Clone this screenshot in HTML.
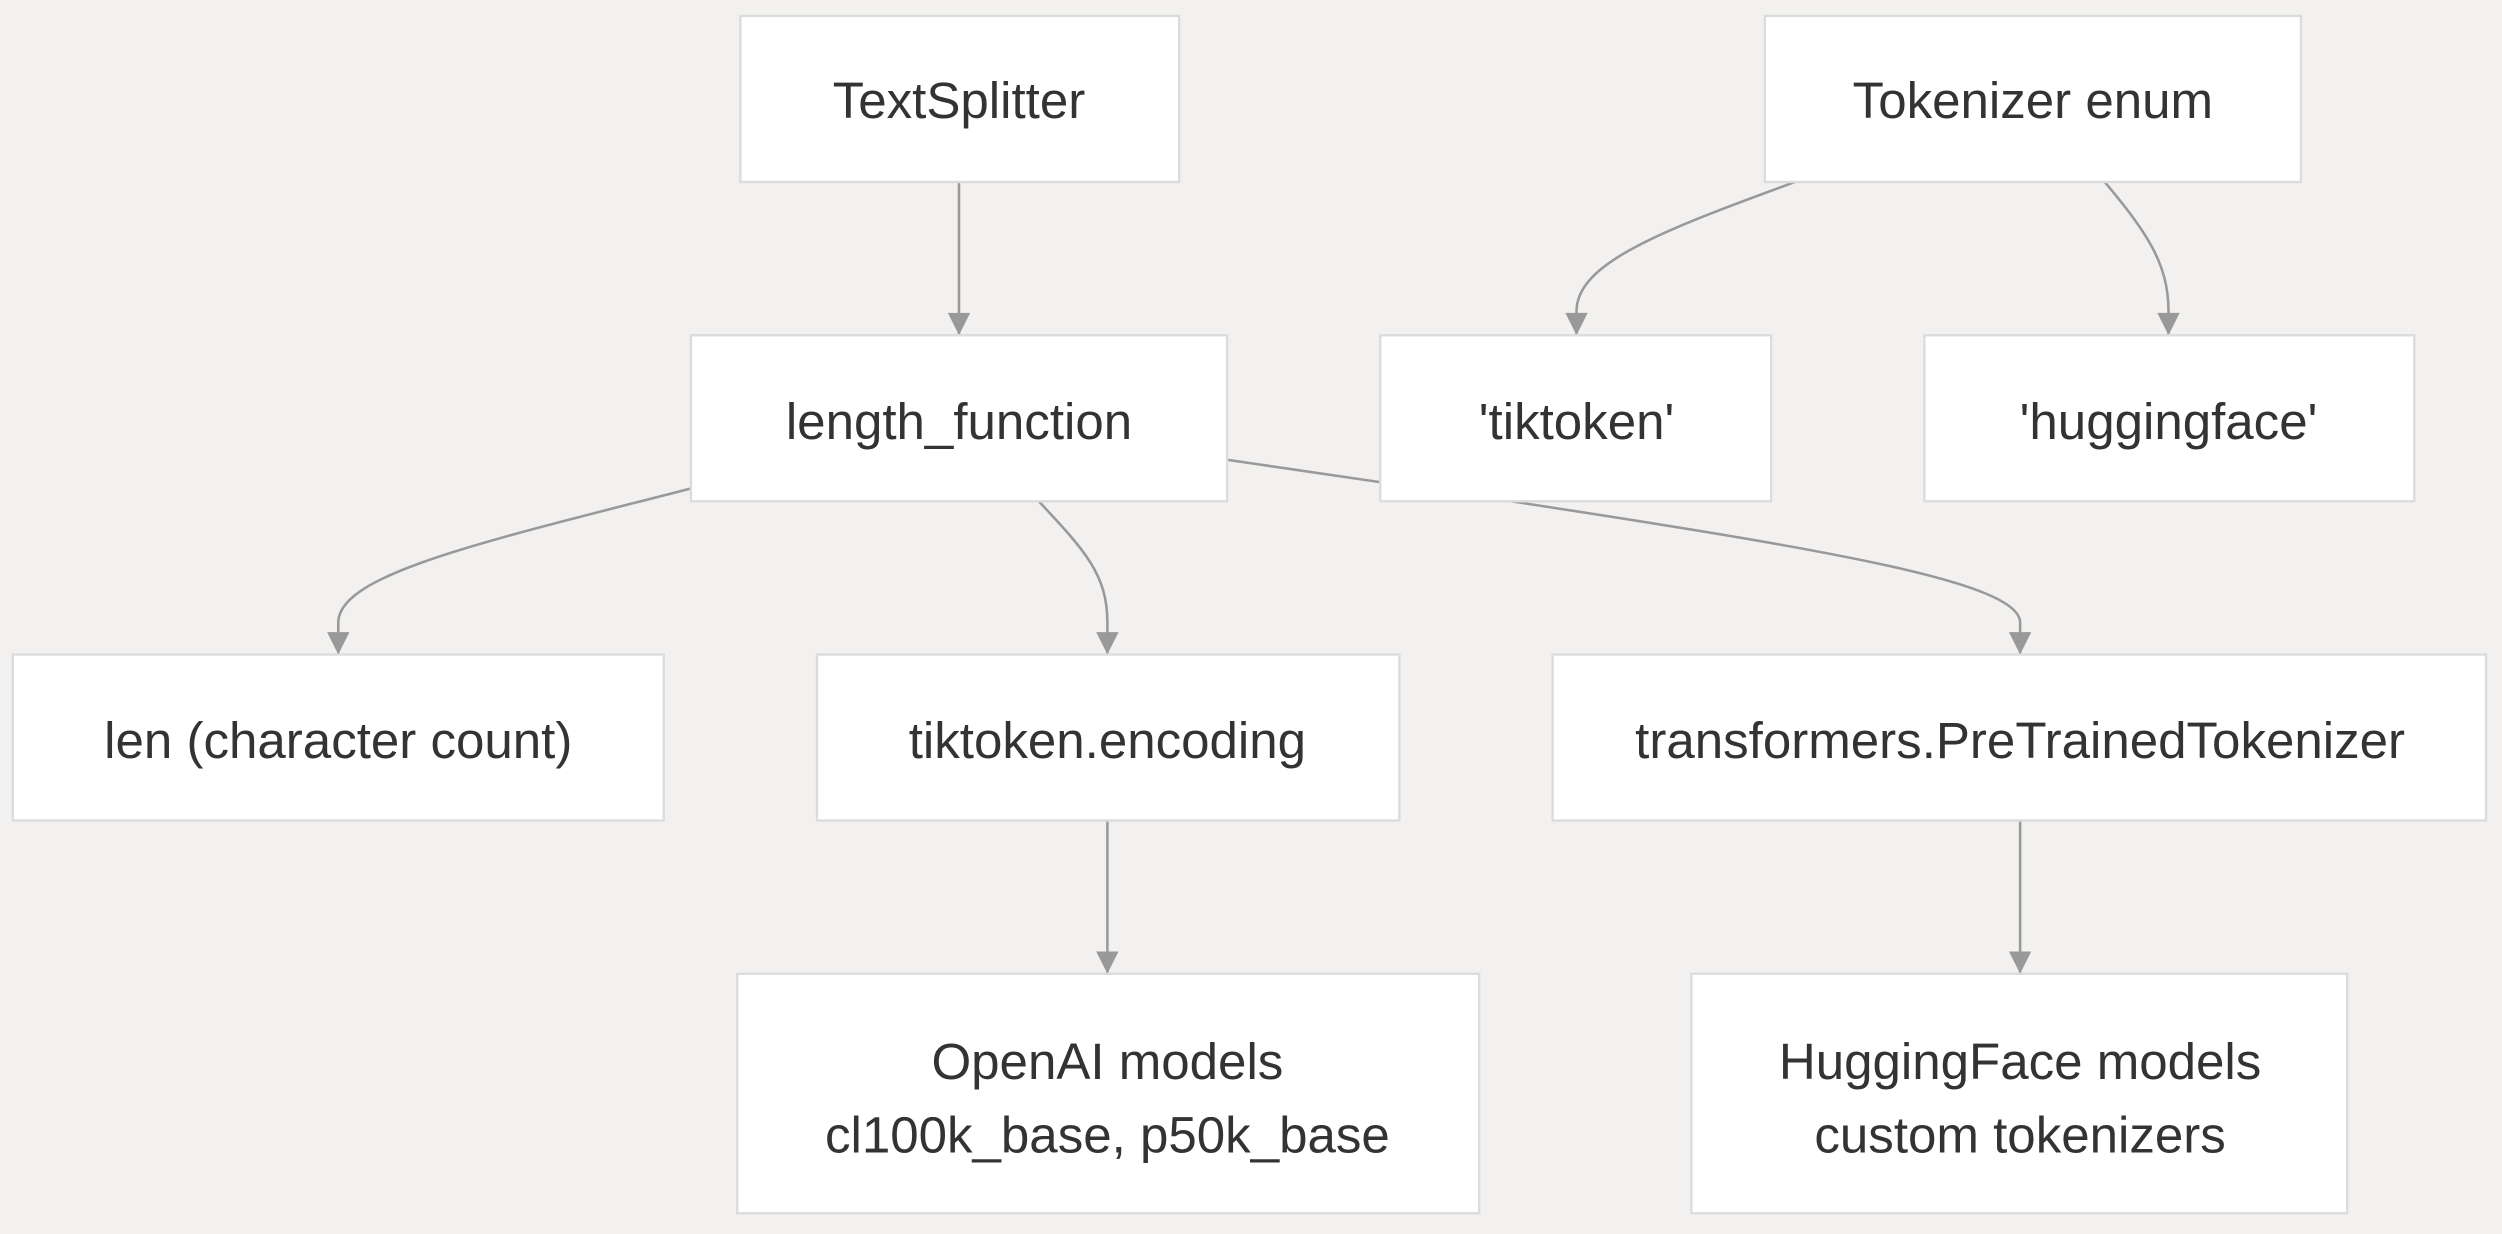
<!DOCTYPE html>
<html><head><meta charset="utf-8"><style>
html,body{margin:0;padding:0;background:#f2f1f0;}
svg{display:block;}
text{font-family:"Liberation Sans",sans-serif;font-size:32px;fill:#333;text-anchor:middle;dominant-baseline:central;}
rect{fill:#fff;stroke:#dcdcdc;stroke-width:1.5;}
path.e{fill:none;stroke:#999;stroke-width:1.6;}
</style></head><body>
<svg width="2502" height="1234" viewBox="0 0 1568 773" preserveAspectRatio="none">
<defs>
<marker id="b" viewBox="0 0 10 10" refX="10" refY="5" markerWidth="16" markerHeight="14" markerUnits="userSpaceOnUse" orient="auto"><path d="M0,0L10,5L0,10z" fill="#999"/></marker></defs>
<rect x="0" y="0" width="1568" height="773" style="fill:#f2f1f0;stroke:none"/>
<path class="e" d="M601,114 L601,210" marker-end="url(#b)"/>
<path class="e" d="M1125,114 C1040,145 988,165 988,195 L988,210" marker-end="url(#b)"/>
<path class="e" d="M1319,114 C1345,145 1359,165 1359,195 L1359,210" marker-end="url(#b)"/>
<path class="e" d="M433,306 C300,340 212,360 212,390 L212,410" marker-end="url(#b)"/>
<path class="e" d="M651,314 C680,345 694,360 694,390 L694,410" marker-end="url(#b)"/>
<path class="e" d="M769,288 L947,314 C1150,345 1266,365 1266,390 L1266,410" marker-end="url(#b)"/>
<path class="e" d="M694,514 L694,610" marker-end="url(#b)"/>
<path class="e" d="M1266,514 L1266,610" marker-end="url(#b)"/>
<rect x="464" y="10" width="275" height="104"/><text x="601" y="63">TextSplitter</text>
<rect x="1106" y="10" width="336" height="104"/><text x="1274" y="63">Tokenizer enum</text>
<rect x="433" y="210" width="336" height="104"/><text x="601" y="264">length_function</text>
<rect x="865" y="210" width="245" height="104"/><text x="988" y="264">'tiktoken'</text>
<rect x="1206" y="210" width="307" height="104"/><text x="1359" y="264">'huggingface'</text>
<rect x="8" y="410" width="408" height="104"/><text x="212" y="464">len (character count)</text>
<rect x="512" y="410" width="365" height="104"/><text x="694" y="464">tiktoken.encoding</text>
<rect x="973" y="410" width="585" height="104"/><text x="1266" y="464">transformers.PreTrainedTokenizer</text>
<rect x="462" y="610" width="465" height="150"/><text x="694" y="665">OpenAI models</text><text x="694" y="711">cl100k_base, p50k_base</text>
<rect x="1060" y="610" width="411" height="150"/><text x="1266" y="665">HuggingFace models</text><text x="1266" y="711">custom tokenizers</text>
</svg>
</body></html>
